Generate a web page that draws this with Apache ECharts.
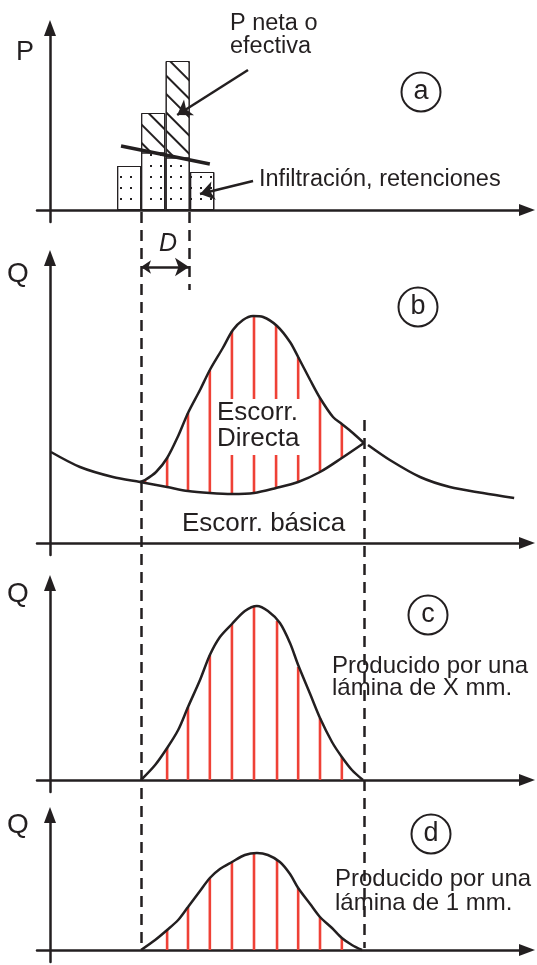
<!DOCTYPE html>
<html>
<head>
<meta charset="utf-8">
<script src="https://cdn.jsdelivr.net/npm/echarts@6/dist/echarts.min.js"></script>
<style>
  html, body { margin: 0; padding: 0; background: #ffffff; }
  #chart { width: 537px; height: 965px; }
</style>
</head>
<body>
<div id="chart"></div>
<script>
// ---- (a) hyetograph: bar centres (time), total rainfall and losses ----
const rainTimes  = [16.5, 21.5, 26.6, 31.7];
const rainTotal  = [4.4, 9.7, 14.9, 3.8];
const rainLosses = [4.4, 5.75, 5.25, 3.8];
const lossLine   = [[14.8, 6.4], [33.3, 4.6]];
const netArrow   = [[41.25, 14.0], [26.5, 9.5]];
const lossArrow  = [[42.3, 2.9], [31.25, 1.6]];

// ---- (b) total hydrograph ----
const baseflow = [[0.2, 9.1], [6.25, 7.6], [13.1, 6.6], [18.75, 6.1], [24.4, 5.6], [28.75, 5.2],
  [33.3, 5.0], [37.9, 4.9], [42.5, 5.0], [47.1, 5.5], [51.7, 6.1], [56.25, 7.1], [60.8, 8.5], [65.4, 10.0]];
const totalFlow = [[18.75, 6.1], [19.8, 6.3], [22.1, 7.1], [24.4, 8.5], [26.7, 10.7], [28.75, 13.0],
  [31.25, 15.3], [33.3, 17.3], [36, 19.5], [38.1, 21.3], [40.2, 22.3], [42.3, 22.7], [44.4, 22.6],
  [47.3, 21.7], [50, 20.1], [51.7, 18.6], [54.2, 16.3], [56.25, 14.5], [58.96, 12.6], [60.8, 11.9],
  [63.1, 11.0], [65.4, 10.0]];
const recession = [[66.25, 9.8], [70.8, 8.3], [77.1, 6.6], [83.3, 5.6], [90.2, 5.0], [96.7, 4.5]];
// [time, baseflow, total flow]
const hatchB = [[19.8, 6.0, 6.3], [24.4, 5.6, 8.5], [28.75, 5.2, 13.0], [33.3, 5.0, 17.3],
  [37.9, 4.9, 21.2], [42.5, 5.0, 22.7], [47.1, 5.5, 21.8], [51.7, 6.1, 18.6], [56.25, 7.1, 14.5],
  [60.8, 8.5, 11.9]];
const durationD = [18.96, 28.96];

// ---- (c) direct runoff hydrograph, X mm ----
const flowC = [[18.96, 0], [21.9, 1.5], [24.4, 3.2], [26.7, 5.0], [28.75, 7.3], [31.25, 10.0],
  [33.3, 12.5], [35.4, 14.3], [37.9, 15.6], [40.6, 16.9], [43.1, 17.4], [45.4, 16.9], [47.9, 15.7],
  [50, 13.7], [51.7, 11.5], [54.2, 8.6], [56.25, 6.2], [58.75, 3.8], [60.8, 2.3], [62.9, 1.0], [65.2, 0]];
const hatchC = [[24.4, 0, 3.2], [28.75, 0, 7.3], [33.3, 0, 12.5], [37.9, 0, 15.6], [42.5, 0, 17.3],
  [47.3, 0, 15.9], [51.7, 0, 11.3], [56.25, 0, 6.2], [60.8, 0, 2.3]];

// ---- (d) unit hydrograph, 1 mm ----
const flowD = [[18.96, 0], [21.9, 1.0], [24.4, 2.0], [26.7, 3.0], [28.75, 4.3], [31.25, 5.9],
  [33.3, 7.2], [35.4, 8.1], [37.9, 8.8], [40.6, 9.5], [43.1, 9.7], [45.4, 9.5], [47.9, 8.8],
  [50, 7.6], [51.7, 6.2], [54.2, 4.6], [56.25, 3.3], [58.75, 2.2], [60.8, 1.2], [62.9, 0.5], [65, 0]];
const hatchD = [[24.4, 0, 2.0], [28.75, 0, 4.3], [33.3, 0, 7.2], [37.9, 0, 8.8], [42.5, 0, 9.7],
  [47.3, 0, 9.0], [51.7, 0, 6.2], [56.25, 0, 3.3], [60.8, 0, 1.2]];

// key times: start of direct runoff, end of net rain, end of direct runoff
const guideTimes = [18.96, 28.96, 65.4];

const INK = '#231f20';
const RED = '#ef4136';
const FONT = '"Liberation Sans", Arial, Helvetica, sans-serif';

const panels = [
  { top: 28,  height: 194, min: -1.2, max: 18.2 },
  { top: 258, height: 297, min: -1.2, max: 28.5 },
  { top: 583, height: 209, min: -1.2, max: 19.7 },
  { top: 815, height: 147, min: -1.2, max: 13.5 }
];

const axisLine = {
  show: true, onZero: true,
  symbol: ['none', 'triangle'], symbolSize: [12, 16],
  lineStyle: { color: INK, width: 2.5 }
};

const grid = panels.map(p => ({ left: 37, right: 10, top: p.top, height: p.height }));
const xAxis = panels.map((p, i) => ({
  type: 'value', gridIndex: i, min: -2.708, max: 99.375,
  axisLine, axisTick: { show: false }, axisLabel: { show: false }, splitLine: { show: false }
}));
const yAxis = panels.map((p, i) => ({
  type: 'value', gridIndex: i, min: p.min, max: p.max,
  axisLine, axisTick: { show: false }, axisLabel: { show: false }, splitLine: { show: false }
}));

function curve(data, idx) {
  return {
    type: 'line', xAxisIndex: idx, yAxisIndex: idx, data,
    smooth: 0.3, showSymbol: false, silent: true, z: 4,
    lineStyle: { color: INK, width: 2.5 }
  };
}

function hatch(data, idx) {
  return {
    type: 'custom', xAxisIndex: idx, yAxisIndex: idx, data, z: 2, silent: true,
    renderItem(params, api) {
      const p0 = api.coord([api.value(0), api.value(1)]);
      const p1 = api.coord([api.value(0), api.value(2)]);
      return {
        type: 'line',
        shape: { x1: p0[0], y1: p0[1], x2: p1[0], y2: p1[1] },
        style: { stroke: RED, lineWidth: 2.6 }
      };
    }
  };
}

function arrow(coords, idx, both) {
  return {
    type: 'lines', coordinateSystem: 'cartesian2d', xAxisIndex: idx, yAxisIndex: idx,
    clip: false, silent: true, z: 6,
    symbol: [both ? 'arrow' : 'none', 'arrow'], symbolSize: [10, 14],
    lineStyle: { color: INK, width: 2.5, opacity: 1 },
    data: [{ coords }]
  };
}

const series = [
  // (a) hyetograph: full bars hatched, losses dotted on top of them
  {
    type: 'bar', xAxisIndex: 0, yAxisIndex: 0, barWidth: 24, barGap: '-100%', silent: true, z: 2,
    data: rainTimes.map((t, i) => [t, rainTotal[i]]),
    itemStyle: {
      color: '#ffffff', borderColor: INK, borderWidth: 1,
      decal: { symbol: 'rect', symbolSize: 1, color: INK, dashArrayX: [1, 0], dashArrayY: [1.3, 11], rotation: Math.PI / 4 }
    }
  },
  {
    type: 'bar', xAxisIndex: 0, yAxisIndex: 0, barWidth: 24, barGap: '-100%', silent: true, z: 3,
    data: rainTimes.map((t, i) => [t, rainLosses[i]]),
    itemStyle: {
      color: '#ffffff', borderColor: INK, borderWidth: 1,
      decal: { symbol: 'rect', symbolSize: 1, color: INK, dashArrayX: [2, 8], dashArrayY: [2, 9] }
    }
  },
  {
    type: 'line', xAxisIndex: 0, yAxisIndex: 0, data: lossLine, showSymbol: false, silent: true, z: 5,
    lineStyle: { color: INK, width: 3.5 }
  },
  arrow(netArrow, 0, false),
  arrow(lossArrow, 0, false),
  // guide lines through all panels
  {
    type: 'lines', coordinateSystem: 'cartesian2d', xAxisIndex: 0, yAxisIndex: 0,
    clip: false, silent: true, z: 6, symbol: 'none',
    lineStyle: { color: INK, width: 2.5, type: [11, 7], opacity: 1 },
    data: [
      { coords: [[guideTimes[0], -0.2], [guideTimes[0], -73.8]] },
      { coords: [[guideTimes[1], -0.2], [guideTimes[1], -8.0]] },
      { coords: [[guideTimes[2], -21.0], [guideTimes[2], -73.8]] }
    ]
  },
  // (b)
  hatch(hatchB, 1),
  curve(baseflow, 1),
  curve(totalFlow, 1),
  curve(recession, 1),
  arrow([[durationD[0], 27.6], [durationD[1], 27.6]], 1, true),
  // (c)
  hatch(hatchC, 2),
  curve(flowC, 2),
  // (d)
  hatch(hatchD, 3),
  curve(flowD, 3)
];

function label(text, x, y, size, extra) {
  return {
    type: 'text', z: 20, silent: true,
    style: Object.assign({
      text, x, y, fill: INK, font: size + 'px ' + FONT,
      align: 'left', verticalAlign: 'middle'
    }, extra || {})
  };
}
function badge(letter, cx, cy) {
  return [
    { type: 'circle', z: 20, silent: true, shape: { cx, cy, r: 19.5 },
      style: { fill: 'none', stroke: INK, lineWidth: 2 } },
    label(letter, cx, cy, 27, { align: 'center' })
  ];
}

const graphic = [
  label('P', 16, 52.6, 27),
  label('Q', 7, 274.3, 28),
  label('Q', 7, 594, 28),
  label('Q', 7, 825, 28),
  label('P neta o', 230, 23.7, 23.5),
  label('efectiva', 230, 46.7, 23.5),
  label('Infiltración, retenciones', 259, 179.7, 23.5),
  label('D', 168, 244, 25, { align: 'center', font: 'italic 25px ' + FONT }),
  { type: 'rect', z: 15, silent: true, shape: { x: 214, y: 399, width: 88, height: 56 },
    style: { fill: '#ffffff' } },
  label('Escorr.', 217, 413, 26),
  label('Directa', 217, 439, 26),
  label('Escorr. básica', 182, 524, 26),
  label('Producido por una', 332, 666.7, 24),
  label('lámina de X mm.', 332, 688.7, 24),
  label('Producido por una', 335, 879.7, 24),
  label('lámina de 1 mm.', 335, 903.7, 24),
  ...badge('a', 421, 92),
  ...badge('b', 418, 307),
  ...badge('c', 428, 615),
  ...badge('d', 431, 834)
];

const chart = echarts.init(document.getElementById('chart'), null, { renderer: 'canvas' });
chart.setOption({
  animation: false,
  backgroundColor: '#ffffff',
  grid, xAxis, yAxis, series, graphic
});
</script>
</body>
</html>
